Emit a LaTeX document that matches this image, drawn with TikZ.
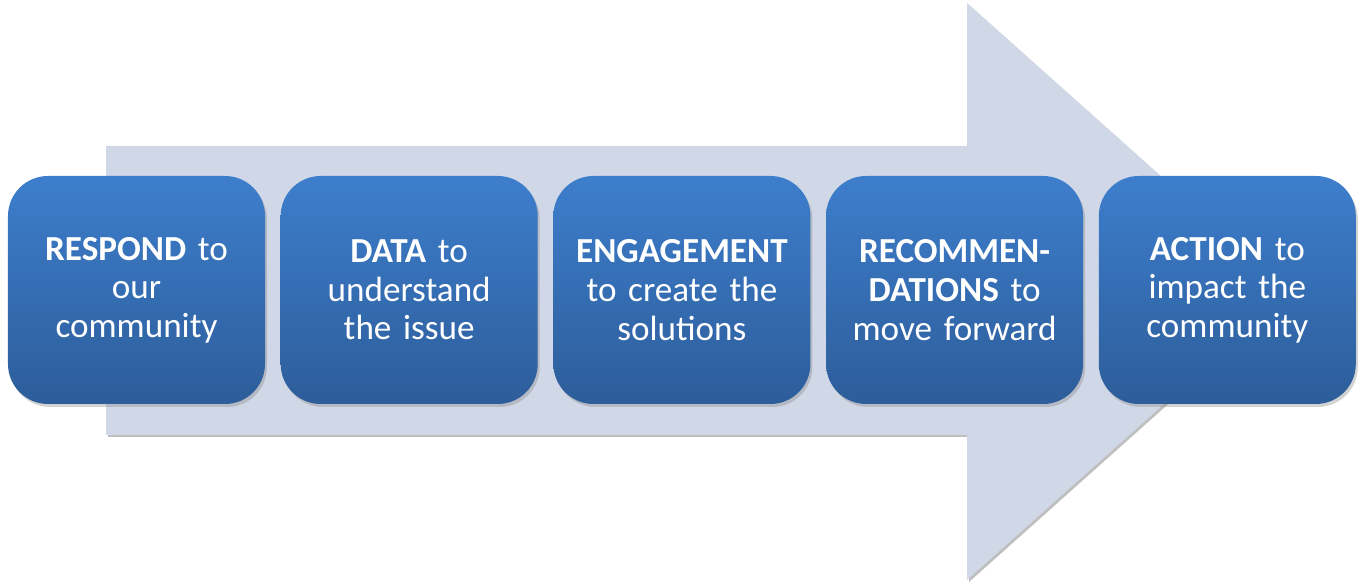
\documentclass[tikz,border=0pt]{standalone}
\usepackage{fontspec}
\setmainfont{Carlito}
\usetikzlibrary{positioning,shadows}
\definecolor{arrowfill}{HTML}{D0D8E8}
\definecolor{boxtop}{HTML}{3D7ECC}
\definecolor{boxbot}{HTML}{2D5D9A}
\tikzset{
  stepbox/.style={rounded corners=0.8cm, minimum width=5.14cm, minimum height=4.56cm,
    inner sep=0.2cm, top color=boxtop, bottom color=boxbot, text=white, align=center,
    text width=4.7cm, font=\fontsize{20}{22}\selectfont,
    drop shadow={shadow xshift=0.04cm, shadow yshift=-0.06cm, opacity=0.35}}
}
\begin{document}
\begin{tikzpicture}
			%%%%% START %%%%%
			\useasboundingbox (0, 0) rectangle (27.24, 11.76);
			
			% big arrow behind the steps
			\fill[black!25] (2.16, 8.80) -- (19.38, 8.80) -- (19.38, 11.66) -- (25.84, 5.89)
				-- (19.38, 0.12) -- (19.38, 3.02) -- (2.16, 3.02) -- cycle;
			\fill[arrowfill] (2.12, 8.84) -- (19.34, 8.84) -- (19.34, 11.70) -- (25.80, 5.93)
				-- (19.34, 0.16) -- (19.34, 3.06) -- (2.12, 3.06) -- cycle;
			
			\node[stepbox] (respond) at (2.73, 5.96) {\textbf{RESPOND} to\\our\\community};
			\node[stepbox, right=0.3cm of respond] (data) {\textbf{DATA} to\\understand\\the issue};
			\node[stepbox, right=0.3cm of data] (engage) {\textbf{ENGAGEMENT}\\to create the\\solutions};
			\node[stepbox, right=0.3cm of engage] (recommend) {\textbf{RECOMMEN-}\\\textbf{DATIONS} to\\move forward};
			\node[stepbox, right=0.3cm of recommend] (action) {\textbf{ACTION} to\\impact the\\community};
			%%%%% END %%%%%
		\end{tikzpicture}
\end{document}
